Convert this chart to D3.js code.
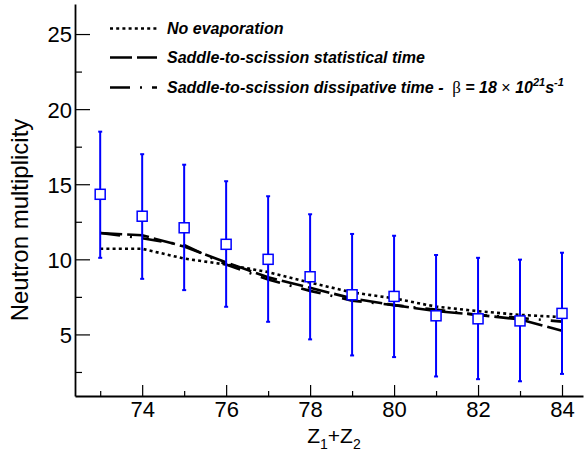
<!DOCTYPE html>
<html>
<head>
<meta charset="utf-8">
<script src="https://cdn.jsdelivr.net/npm/d3@7"></script>
<style>
  html, body { margin: 0; padding: 0; background: #fff; }
  svg { display: block; }
  text { font-family: "Liberation Sans", Arial, Helvetica, sans-serif; }
</style>
</head>
<body>
<svg id="chart" width="584" height="453"></svg>
<script>
// ---- data ----
const zSum = [73, 74, 75, 76, 77, 78, 79, 80, 81, 82, 83, 84];
const measured = [14.33, 12.87, 12.1, 11.0, 10.0, 8.84, 7.64, 7.53, 6.24, 6.04, 5.9, 6.4];
const errHigh = [18.5, 17.0, 16.3, 15.2, 14.2, 13.0, 11.69, 11.57, 10.29, 10.1, 9.98, 10.44];
const errLow = [10.1, 8.7, 7.95, 6.84, 5.84, 4.67, 3.6, 3.49, 2.2, 2.02, 1.88, 2.37];
const noEvaporation = [10.7, 10.7, 10.05, 9.65, 9.15, 8.45, 7.8, 7.4, 6.85, 6.55, 6.3, 6.15];
const statistical = [11.75, 11.6, 10.85, 9.8, 8.8, 8.1, 7.4, 6.95, 6.55, 6.3, 6.0, 5.25];
const dissipative = [11.75, 11.4, 10.95, 9.65, 8.65, 7.9, 7.25, 6.95, 6.65, 6.3, 6.1, 5.85];
const xMajorTicks = [74, 76, 78, 80, 82, 84];
const xMinorTicks = [73, 75, 77, 79, 81, 83];
const yMajorTicks = [5, 10, 15, 20, 25];
const yMinorTicks = [2.5, 7.5, 12.5, 17.5, 22.5];
const legendLabels = ["No evaporation", "Saddle-to-scission statistical time", "Saddle-to-scission dissipative time - "];

const svg = d3.select("#chart");
const x = d3.scaleLinear().domain([72.4, 84.5]).range([75, 583]);
const y = d3.scaleLinear().domain([0.9, 27]).range([396, 4]);

// ---- axes ----
const xAxisG = svg.append("g").attr("transform", "translate(0,396)");
xAxisG.call(d3.axisBottom(x).tickValues(xMajorTicks).tickSize(-11).tickSizeOuter(0).tickPadding(5).tickFormat(d3.format("d")));
const xMinorG = svg.append("g").attr("transform", "translate(0,396)");
xMinorG.call(d3.axisBottom(x).tickValues(xMinorTicks).tickSize(-5).tickSizeOuter(0).tickFormat(""));
xMinorG.select(".domain").remove();

const yAxisG = svg.append("g").attr("transform", "translate(75,0)");
yAxisG.call(d3.axisLeft(y).tickValues(yMajorTicks).tickSize(-15).tickSizeOuter(0).tickPadding(3).tickFormat(d3.format("d")));
const yMinorG = svg.append("g").attr("transform", "translate(75,0)");
yMinorG.call(d3.axisLeft(y).tickValues(yMinorTicks).tickSize(-7).tickSizeOuter(0).tickFormat(""));
yMinorG.select(".domain").remove();

svg.selectAll(".domain").attr("stroke", "#000").attr("stroke-width", 1.8);
svg.selectAll(".tick line").attr("stroke", "#000").attr("stroke-width", 1.2);
svg.selectAll(".tick text").attr("font-size", 22).attr("fill", "#000")
   .attr("font-family", "'Liberation Sans', Arial, sans-serif");
yAxisG.selectAll(".tick text").attr("dy", "0.36em");

// axis titles
const xt = svg.append("text").attr("x", 334).attr("y", 443).attr("text-anchor", "middle")
  .attr("font-size", 21).attr("fill", "#000");
xt.append("tspan").text("Z");
xt.append("tspan").attr("font-size", 14).attr("dy", 6).text("1");
xt.append("tspan").attr("dy", -6).text("+Z");
xt.append("tspan").attr("font-size", 14).attr("dy", 6).text("2");

svg.append("text").attr("transform", "translate(28,220) rotate(-90)")
  .attr("text-anchor", "middle").attr("font-size", 24).attr("fill", "#000")
  .text("Neutron multiplicity");

// ---- model curves ----
const line = d3.line().x(d => x(d[0])).y(d => y(d[1]));
const styles = [
  { data: noEvaporation, dash: "3,3.2", w: 2.6 },
  { data: statistical, dash: "22,5", w: 2.6 },
  { data: dissipative, dash: "20,10,2,10", w: 2.6 }
];
styles.forEach(s => {
  svg.append("path")
    .attr("d", line(zSum.map((z, i) => [z, s.data[i]])))
    .attr("fill", "none").attr("stroke", "#000")
    .attr("stroke-width", s.w).attr("stroke-dasharray", s.dash);
});

// ---- measured points with error bars ----
const blue = "#0000ff";
const pts = svg.append("g");
zSum.forEach((z, i) => {
  const cx = x(z);
  pts.append("line").attr("x1", cx).attr("x2", cx).attr("y1", y(errLow[i])).attr("y2", y(errHigh[i]))
    .attr("stroke", blue).attr("stroke-width", 2);
  [errLow[i], errHigh[i]].forEach(v => {
    pts.append("line").attr("x1", cx - 2).attr("x2", cx + 2).attr("y1", y(v)).attr("y2", y(v))
      .attr("stroke", blue).attr("stroke-width", 2);
  });
  pts.append("rect").attr("x", cx - 5).attr("y", y(measured[i]) - 5).attr("width", 10).attr("height", 10)
    .attr("fill", "#fff").attr("stroke", blue).attr("stroke-width", 1.5);
});

// ---- legend ----
const legRowsY = [28.5, 57.5, 87.5];
const leg = svg.append("g");
styles.forEach((s, i) => {
  leg.append("line").attr("x1", 110).attr("x2", 157).attr("y1", legRowsY[i]).attr("y2", legRowsY[i])
    .attr("stroke", "#000").attr("stroke-width", s.w).attr("stroke-dasharray", s.dash);
});
legendLabels.forEach((lab, i) => {
  const t = leg.append("text").attr("x", 167).attr("y", legRowsY[i] + 5.5)
    .attr("font-size", 16).attr("font-weight", "bold").attr("font-style", "italic").attr("fill", "#000");
  t.append("tspan").text(lab);
  if (i === 2) {
    t.append("tspan").attr("font-weight", "normal").attr("font-style", "normal")
      .attr("font-family", "'Liberation Serif', serif").attr("font-size", 17).text("\u00a0β");
    t.append("tspan").text(" = 18 ");
    t.append("tspan").attr("font-weight", "normal").attr("font-style", "normal").text("×");
    t.append("tspan").text(" 10");
    t.append("tspan").attr("font-size", 11).attr("dy", -7).text("21");
    t.append("tspan").attr("dy", 7).text("s");
    t.append("tspan").attr("font-size", 11).attr("dy", -7).text("-1");
  }
});
</script>
</body>
</html>
